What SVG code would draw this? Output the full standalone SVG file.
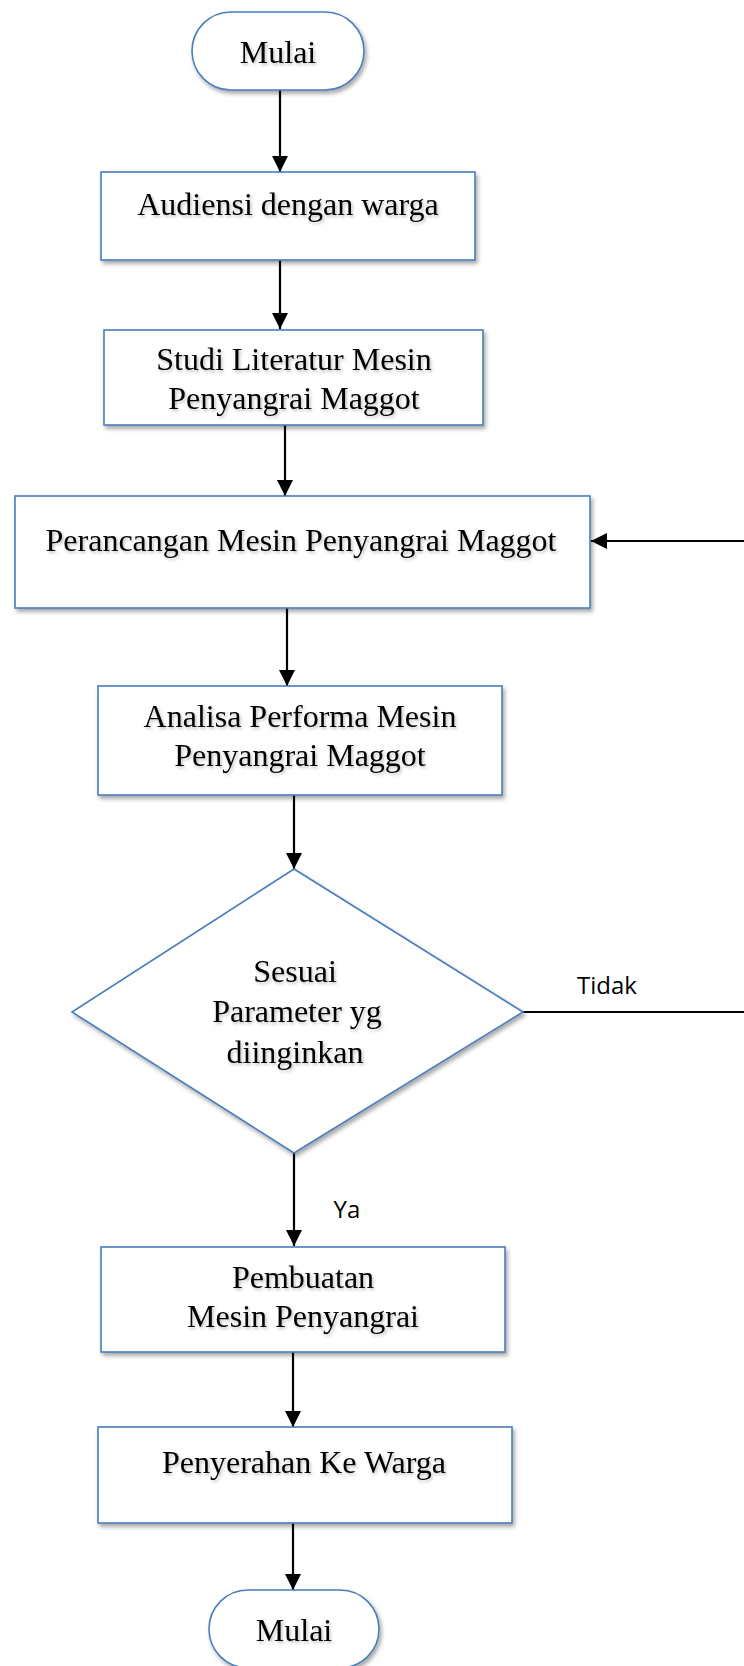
<svg xmlns="http://www.w3.org/2000/svg" width="744" height="1666" viewBox="0 0 744 1666">
<style>
.node{fill:#fff;stroke:#4a7ebb;stroke-width:1.6;filter:url(#sh)}
.t{font-family:"Liberation Serif",serif;font-size:32px;fill:#000;text-anchor:middle;filter:url(#tsh)}
.lbl{font-family:"Open Sans","Liberation Sans",sans-serif;font-size:24px;fill:#000}
.c{stroke:#000;stroke-width:2.2;fill:none}
.ca{stroke:#000;stroke-width:2.2;fill:none;marker-end:url(#ah)}
</style>
<defs>
<filter id="sh" x="-10%" y="-10%" width="125%" height="130%">
<feDropShadow dx="2" dy="3" stdDeviation="2" flood-color="#000" flood-opacity="0.35"/>
</filter>
<filter id="tsh" x="-5%" y="-20%" width="115%" height="160%">
<feDropShadow dx="1.5" dy="2" stdDeviation="1.5" flood-color="#000" flood-opacity="0.25"/>
</filter>
<marker id="ah" viewBox="0 0 16 16" refX="16" refY="8" markerWidth="16" markerHeight="16" markerUnits="userSpaceOnUse" orient="auto">
<path d="M0,0 L16,8 L0,16 z" fill="#000"/>
</marker>
</defs>
<rect width="744" height="1666" fill="#fff"/>
<g id="connectors">
<line class="ca" x1="280" y1="90" x2="280" y2="172"/>
<line class="ca" x1="280" y1="260" x2="280" y2="329"/>
<line class="ca" x1="285" y1="425" x2="285" y2="496"/>
<line class="ca" x1="287" y1="608" x2="287" y2="686"/>
<line class="ca" x1="294" y1="795" x2="294" y2="869"/>
<line class="ca" x1="294" y1="1153" x2="294" y2="1246"/>
<line class="ca" x1="293" y1="1352" x2="293" y2="1427"/>
<line class="ca" x1="293" y1="1523" x2="293" y2="1590"/>
<line class="c" x1="523" y1="1012" x2="744" y2="1012"/>
<line class="ca" x1="744" y1="541" x2="591" y2="541"/>
<text class="lbl" x="607" y="994" text-anchor="middle">Tidak</text>
<text class="lbl" x="347" y="1218" text-anchor="middle">Ya</text>
</g>
<g id="start">
<rect class="node" x="192" y="12" width="172" height="78" rx="39" ry="39"/>
<text class="t" x="278" y="63">Mulai</text>
</g>
<g id="audiensi">
<rect class="node" x="101" y="172" width="374" height="88"/>
<text class="t" x="288" y="215">Audiensi dengan warga</text>
</g>
<g id="studi">
<rect class="node" x="104" y="330" width="379" height="95"/>
<text class="t" x="294" y="370">Studi Literatur Mesin</text>
<text class="t" x="294" y="409">Penyangrai Maggot</text>
</g>
<g id="perancangan">
<rect class="node" x="15" y="496" width="575" height="112"/>
<text class="t" x="301" y="551">Perancangan Mesin Penyangrai Maggot</text>
</g>
<g id="analisa">
<rect class="node" x="98" y="686" width="404" height="109"/>
<text class="t" x="300" y="727">Analisa Performa Mesin</text>
<text class="t" x="300" y="766">Penyangrai Maggot</text>
</g>
<g id="keputusan">
<polygon class="node" points="294,869 523,1012 294,1153 72,1012"/>
<text class="t" x="295" y="982">Sesuai</text>
<text class="t" x="297" y="1022">Parameter yg</text>
<text class="t" x="295" y="1063">diinginkan</text>
</g>
<g id="pembuatan">
<rect class="node" x="101" y="1247" width="404" height="105"/>
<text class="t" x="303" y="1288">Pembuatan</text>
<text class="t" x="303" y="1327">Mesin Penyangrai</text>
</g>
<g id="penyerahan">
<rect class="node" x="98" y="1427" width="414" height="96"/>
<text class="t" x="304" y="1473">Penyerahan Ke Warga</text>
</g>
<g id="end">
<rect class="node" x="209" y="1590" width="170" height="78" rx="39" ry="39"/>
<text class="t" x="294" y="1641">Mulai</text>
</g>
</svg>
